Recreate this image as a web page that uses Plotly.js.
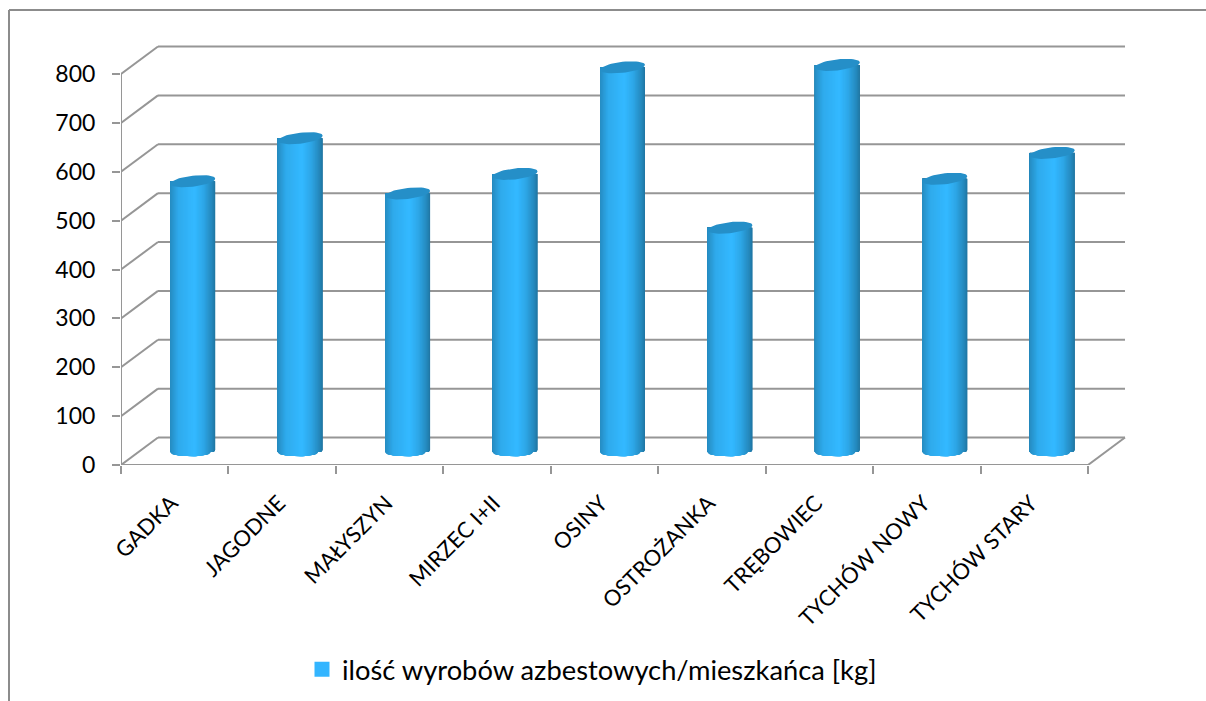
<!DOCTYPE html>
<html>
<head>
<meta charset="utf-8">
<script src="https://cdn.plot.ly/plotly-3.0.1.min.js"></script>
<style>html,body{margin:0;padding:0;background:#fff;overflow:hidden}#chart{width:1206px;height:701px}</style>
</head>
<body>
<div id="chart"></div>
<script>
const categories = ["GADKA","JAGODNE","MAŁYSZYN","MIRZEC I+II","OSINY","OSTROŻANKA","TRĘBOWIEC","TYCHÓW NOWY","TYCHÓW STARY"];
const values = [552,640,527,567,785,457,790,557,610];
const yTicks = [0,100,200,300,400,500,600,700,800];
const seriesName = "ilość wyrobów azbestowych/mieszkańca [kg]";

const W=1206,H=701,L=121,R=76,T=40,B=236;
const pxPerCat=(1088-121)/9, pxPerVal=391/800;
const plotW=W-L-R, plotH=H-T-B;
const xMin=-0.5, xMax=xMin+plotW/pxPerCat, yMax=plotH/pxPerVal;
const cx=px=>px/pxPerCat, cy=px=>px/pxPerVal;
const xEnd=categories.length-0.5;
const wallDX=cx(37), wallDY=cy(27.5);
const midDX=cx(18), midDY=cy(14);
const halfW=cx(22.5), botB=cy(5.5), botT=cy(1), topB=cy(5.5), topT=cy(2.5);
const grey="#969696";
const dark=[33,118,162], bright=[51,184,255];

// piecewise lookup of a cylinder edge position against shading level
function lerp(tab,s){
  for(let k=1;k<tab.length;k++){
    if(s<=tab[k][0]){const a=tab[k-1],b=tab[k];return a[1]+(b[1]-a[1])*(s-a[0])/(b[0]-a[0]);}
  }
  return tab[tab.length-1][1];
}
const leftEdge=[[0,0],[0.35,0],[0.8,0.18],[1,0.5]];
const rightEdge=[[0,1],[0.3,0.92],[0.75,0.74],[1,0.56]];

const traces=[];
const levels=60;
const lowEdge=u=>midDY-botB*Math.sqrt(Math.max(0,1-u*u))+botT*u;
for(let s=0;s<levels;s++){
  const f=s/(levels-1);
  const tl=lerp(leftEdge,f), tr=lerp(rightEdge,f);
  const ul=2*tl-1, ur=2*tr-1;
  const baseOff=Math.max(lowEdge(ul),lowEdge(ur));
  const topOff=midDY+topT*(ul+ur)/2;
  const col="rgb("+dark.map((c,j)=>Math.round(c+(bright[j]-c)*f)).join(",")+")";
  traces.push({type:"bar",x:categories.map((c,i)=>i+midDX+(ul+ur)/2*halfW),
    y:values.map(v=>v+topOff-baseOff),base:categories.map(()=>baseOff),
    width:(ur-ul)*halfW,marker:{color:col,line:{width:0}},
    showlegend:false,hoverinfo:"skip"});
}
const ex=[],ey=[];
values.forEach((v,i)=>{
  for(let k=0;k<=48;k++){
    const a=k/48*2*Math.PI;
    ex.push(i+midDX+halfW*Math.cos(a));
    ey.push(v+midDY+topB*Math.sin(a)+topT*Math.cos(a));
  }
  ex.push(null);ey.push(null);
});
traces.push({type:"scatter",mode:"lines",x:ex,y:ey,fill:"toself",fillcolor:"#258FC8",line:{width:0,color:"#258FC8"},showlegend:false,hoverinfo:"skip"});
traces.push({type:"scatter",mode:"markers",x:[null],y:[null],name:seriesName,marker:{symbol:"square",size:15,color:"#33B5FF"},showlegend:true});

const seg=(x0,y0,x1,y1)=>({type:"line",xref:"x",yref:"y",x0,y0,x1,y1,layer:"below",line:{color:grey,width:2}});
const shapes=[];
yTicks.forEach(v=>{
  shapes.push(seg(xMin,v,xMin+wallDX,v+wallDY));
  shapes.push(seg(xMin+wallDX,v+wallDY,xEnd+wallDX,v+wallDY));
});
shapes.push(seg(xMin,0,xMin,yTicks[yTicks.length-1]));
shapes.push(seg(xMin,0,xEnd,0));
shapes.push(seg(xEnd,0,xEnd+wallDX,wallDY));
const pxX=p=>(p-L)/plotW, pxY=p=>1-(p-T)/plotH;
const frame=(a,b,c,d)=>({type:"line",xref:"paper",yref:"paper",x0:pxX(a),y0:pxY(b),x1:pxX(c),y1:pxY(d),layer:"below",line:{color:"#8c8c8c",width:2}});
shapes.push(frame(9,10,1206,10));
shapes.push(frame(9,10,9,701));

const font={family:"Lato, 'Open Sans', sans-serif",color:"#000"};
const layout={
  width:W,height:H,margin:{l:L,r:R,t:T,b:B,pad:0},
  paper_bgcolor:"#fff",plot_bgcolor:"rgba(0,0,0,0)",
  barmode:"overlay",showlegend:true,
  xaxis:{type:"linear",range:[xMin,xMax],tickmode:"array",
    tickvals:categories.map((c,i)=>i-0.03),ticktext:categories,tickangle:-45,
    ticks:"",showgrid:false,zeroline:false,showline:false,
    ticklabelstandoff:20,
    tickfont:{...font,size:22},
    minor:{tickmode:"array",tickvals:Array.from({length:categories.length+1},(_,i)=>i-0.5),ticks:"outside",ticklen:8,tickwidth:2,tickcolor:grey,showgrid:false}},
  yaxis:{range:[0,yMax],tickmode:"array",tickvals:yTicks,ticks:"outside",ticklen:8,tickwidth:2,tickcolor:grey,
    showgrid:false,zeroline:false,showline:false,ticklabelstandoff:12,tickfont:{...font,size:23}},
  legend:{orientation:"h",xref:"container",yref:"container",x:302/W,xanchor:"left",y:1-645/H,yanchor:"top",font:{...font,size:27.3},bgcolor:"rgba(0,0,0,0)",itemsizing:"trace"},
  shapes
};
Plotly.newPlot("chart",traces,layout,{displayModeBar:false,staticPlot:true});
</script>
</body>
</html>
